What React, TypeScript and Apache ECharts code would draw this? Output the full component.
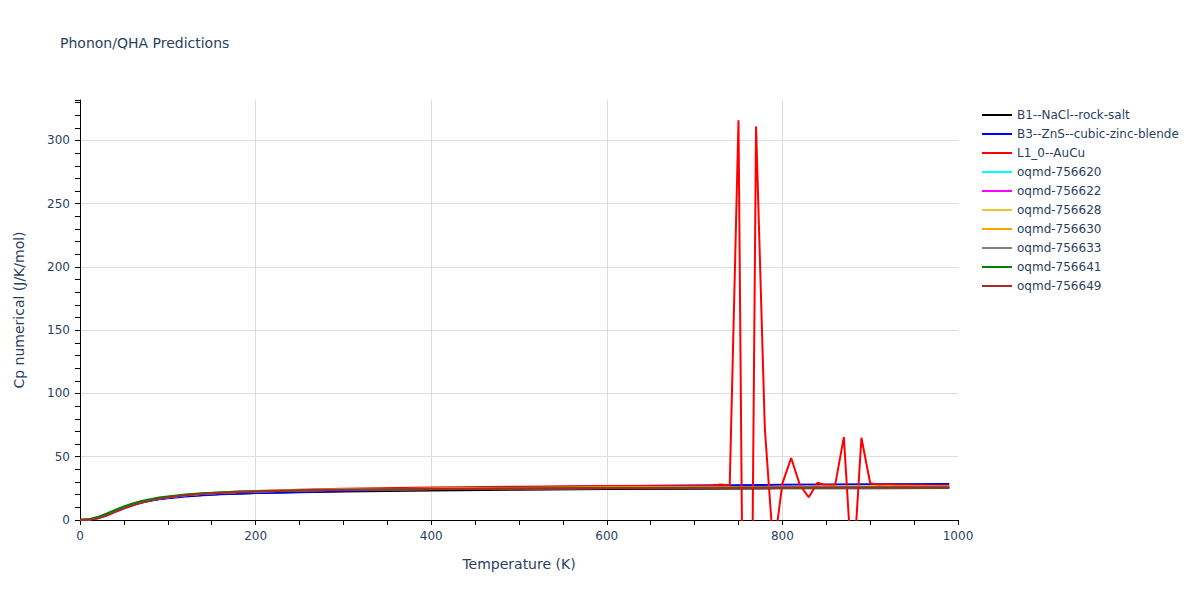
import React, { useEffect, useRef } from "react";
import * as echarts from "echarts";

const seriesNames = [
  "B1--NaCl--rock-salt",
  "B3--ZnS--cubic-zinc-blende",
  "L1_0--AuCu",
  "oqmd-756620",
  "oqmd-756622",
  "oqmd-756628",
  "oqmd-756630",
  "oqmd-756633",
  "oqmd-756641",
  "oqmd-756649",
];
const seriesColors = [
  "#000000",
  "#0000ff",
  "#ff0000",
  "#00ffff",
  "#ff00ff",
  "#e8c631",
  "#ffa500",
  "#808080",
  "#008000",
  "#a52a2a",
];

// Temperatures (K) for the smooth curves
const tempsCommon = [0, 10, 20, 30, 40, 50, 60, 70, 80, 90, 100, 120, 140, 160, 180, 200, 250, 300, 400, 500, 600, 700, 800, 900, 990];

const cpB1 = [0, 0.4, 1.8, 4.2, 7.0, 9.7, 12.0, 13.9, 15.4, 16.6, 17.5, 18.9, 19.8, 20.5, 21.0, 21.4, 22.0, 22.5, 23.3, 24.0, 24.5, 24.8, 25.0, 25.1, 25.2];
const cpB3 = [0, 0.5, 2.0, 4.4, 7.2, 9.8, 12.0, 13.8, 15.2, 16.3, 17.2, 18.6, 19.6, 20.3, 20.8, 21.3, 22.2, 23.0, 24.5, 25.8, 26.7, 27.3, 27.8, 28.2, 28.5];
const cp756620 = [0, 0.3, 1.6, 4.0, 6.9, 9.7, 12.1, 14.1, 15.7, 17.0, 18.0, 19.6, 20.7, 21.5, 22.1, 22.6, 23.4, 23.9, 24.5, 24.9, 25.2, 25.4, 25.6, 25.7, 25.8];
const cp756622 = [0, 0.3, 1.6, 4.0, 6.9, 9.7, 12.1, 14.1, 15.7, 17.0, 18.0, 19.6, 20.7, 21.5, 22.1, 22.6, 23.4, 23.9, 24.5, 24.9, 25.2, 25.4, 25.6, 25.7, 25.8];
const cp756628 = [0, 0.3, 1.7, 4.1, 7.0, 9.8, 12.2, 14.2, 15.8, 17.1, 18.1, 19.7, 20.8, 21.6, 22.2, 22.7, 23.5, 24.1, 24.8, 25.3, 25.7, 26.0, 26.2, 26.4, 26.5];
const cp756630 = [0, 0.3, 1.7, 4.1, 7.0, 9.8, 12.2, 14.2, 15.8, 17.1, 18.1, 19.7, 20.8, 21.6, 22.2, 22.7, 23.5, 24.1, 24.8, 25.3, 25.6, 25.9, 26.1, 26.2, 26.3];
const cp756633 = [0, 0.3, 1.6, 4.0, 6.9, 9.7, 12.1, 14.1, 15.7, 17.0, 18.0, 19.6, 20.7, 21.5, 22.1, 22.6, 23.4, 23.9, 24.5, 24.9, 25.2, 25.4, 25.6, 25.7, 25.8];
const cp756641 = [0, 0.5, 2.3, 5.0, 8.0, 10.8, 13.1, 15.0, 16.5, 17.7, 18.6, 20.1, 21.1, 21.8, 22.3, 22.7, 23.4, 23.9, 24.5, 24.9, 25.2, 25.4, 25.5, 25.6, 25.7];
const cp756649 = [0, 0.2, 1.2, 3.4, 6.2, 9.0, 11.5, 13.6, 15.3, 16.7, 17.8, 19.5, 20.6, 21.4, 22.0, 22.5, 23.3, 23.8, 24.4, 24.8, 25.1, 25.3, 25.5, 25.6, 25.7];

// L1_0--AuCu has a finer grid at high temperature
const tempsAuCu = [0, 10, 20, 30, 40, 50, 60, 70, 80, 90, 100, 120, 140, 160, 180, 200, 250, 300, 400, 500, 600, 700, 710, 720, 730, 740, 750, 760, 770, 780, 790, 800, 810, 820, 830, 840, 850, 860, 870, 880, 890, 900, 910, 920, 930, 940, 950, 960, 970, 980, 990];
const cpAuCu = [0, 0.3, 1.6, 4.0, 6.9, 9.7, 12.1, 14.1, 15.7, 17.0, 18.0, 19.7, 20.9, 21.8, 22.5, 23.0, 24.0, 24.8, 25.6, 26.3, 26.8, 27.1, 27.1, 27.3, 28.0, 27.2, 316, -500, 311, 72, -25, 29, 49, 27.5, 18, 29.5, 27.4, 27.4, 65.5, -48, 65, 29, 27.6, 28.2, 27.5, 27.6, 27.4, 27.5, 27.3, 27.2, 27.2];

const seriesValues = [cpB1, cpB3, cpAuCu, cp756620, cp756622, cp756628, cp756630, cp756633, cp756641, cp756649];
const seriesTemps = [tempsCommon, tempsCommon, tempsAuCu, tempsCommon, tempsCommon, tempsCommon, tempsCommon, tempsCommon, tempsCommon, tempsCommon];

const FONT = '"DejaVu Sans", Verdana, sans-serif';
const TEXT = "#2a3f5f";

export default function App() {
  const ref = useRef<HTMLDivElement>(null);
  useEffect(() => {
    if (!ref.current) return;
    const chart = echarts.init(ref.current, undefined, { renderer: "svg" });
    const series = seriesNames.map((name, i) => ({
      name,
      type: "line",
      showSymbol: false,
      symbol: "none",
      clip: true,
      color: seriesColors[i],
      lineStyle: { width: 2, color: seriesColors[i] },
      data: seriesTemps[i].map((t, j) => [t, seriesValues[i][j]]),
      xAxisIndex: 0,
      yAxisIndex: 0,
    }));
    chart.setOption({
      animation: false,
      backgroundColor: "#ffffff",
      textStyle: { fontFamily: FONT },
      title: {
        text: "Phonon/QHA Predictions",
        left: 55,
        top: 31,
        textStyle: { fontFamily: FONT, fontSize: 14, fontWeight: "normal", color: TEXT },
      },
      legend: {
        orient: "vertical",
        left: 977,
        top: 103,
        itemWidth: 30,
        itemHeight: 2,
        itemGap: 5,
        icon: "rect",
        textStyle: { fontFamily: FONT, fontSize: 12, color: TEXT, lineHeight: 14 },
        data: seriesNames,
      },
      grid: { left: 80, right: 242, top: 100, bottom: 80, containLabel: false },
      xAxis: [
        {
          type: "value",
          position: "bottom",
          min: 0,
          max: 1000,
          interval: 200,
          name: "Temperature (K)",
          nameLocation: "middle",
          nameGap: 37,
          nameTextStyle: { fontFamily: FONT, fontSize: 14, color: TEXT },
          axisLine: { show: true, lineStyle: { color: "#000000", width: 1 } },
          axisTick: { show: false },
          axisLabel: { fontFamily: FONT, fontSize: 12, color: TEXT, margin: 10, formatter: (v: number) => String(v) },
          splitLine: { show: true, showMinLine: false, showMaxLine: false, lineStyle: { color: "#dddddd", width: 1 } },
        },
        {
          type: "value",
          position: "bottom",
          min: 0,
          max: 1000,
          interval: 50,
          axisLine: { show: false },
          axisTick: { show: true, length: 5, inside: false, lineStyle: { color: "#000000" } },
          axisLabel: { show: false },
          splitLine: { show: false },
        },
      ],
      yAxis: [
        {
          type: "value",
          position: "left",
          min: 0,
          max: 332,
          interval: 50,
          name: "Cp numerical (J/K/mol)",
          nameLocation: "middle",
          nameGap: 54,
          nameRotate: 90,
          nameTextStyle: { fontFamily: FONT, fontSize: 14, color: TEXT },
          axisLine: { show: true, lineStyle: { color: "#000000", width: 1 } },
          axisTick: { show: false },
          axisLabel: { fontFamily: FONT, fontSize: 12, color: TEXT, showMaxLabel: false, margin: 10 },
          splitLine: { show: true, showMinLine: false, showMaxLine: false, lineStyle: { color: "#dddddd", width: 1 } },
        },
        {
          type: "value",
          position: "left",
          min: 0,
          max: 332,
          interval: 10,
          axisLine: { show: false },
          axisTick: { show: true, length: 5, inside: false, lineStyle: { color: "#000000" } },
          axisLabel: { show: false },
          splitLine: { show: false },
        },
      ],
      series,
    });
    return () => chart.dispose();
  }, []);
  return <div ref={ref} style={{ width: 1200, height: 600, position: "absolute", left: 0, top: 0 }} />;
}
